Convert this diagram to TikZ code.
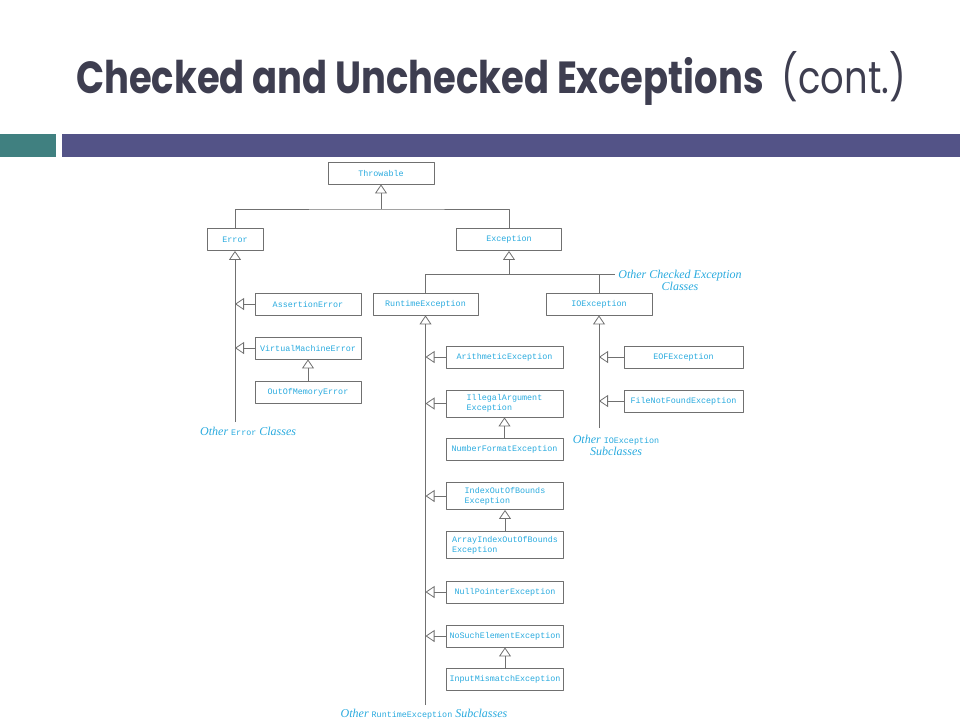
\documentclass[tikz,border=0pt]{standalone}
\usepackage{fontspec}
\usetikzlibrary{arrows.meta,positioning}
\newfontfamily\titlefont{Poppins}
\newfontfamily\codefont{Liberation Mono}
\newfontfamily\notefont{Liberation Serif}
\newcommand{\cd}[1]{{\codefont\upshape\fontsize{8.4}{10}\selectfont #1}}
\definecolor{titlegray}{RGB}{62,62,80}
\definecolor{barteal}{RGB}{64,128,128}
\definecolor{barpurple}{RGB}{83,83,135}
\definecolor{codecyan}{RGB}{41,170,222}
\definecolor{linegray}{RGB}{112,112,112}
\begin{document}
\begin{tikzpicture}[x=1pt,y=-1pt, line join=round,
  cls/.style={draw=linegray, line width=0.8pt, minimum width=106pt, minimum height=22pt,
    inner sep=0pt, text=codecyan, font=\codefont\fontsize{8.4}{10}\selectfont},
  wide/.style={cls, minimum width=117pt},
  two/.style={wide, minimum height=27pt, align=left},
  link/.style={draw=linegray, line width=0.8pt},
  inh/.style={link, -{Triangle[open,length=9pt,width=12pt]}},
  note/.style={text=codecyan, inner sep=0pt, align=center,
    font=\notefont\itshape\fontsize{12}{12}\selectfont}]
  \useasboundingbox (0,0) rectangle (960,720);
  % title and bars
  \node[anchor=base west, inner sep=0pt, text=titlegray, font=\titlefont\fontsize{45}{45}\selectfont]
    (title) at (76,93) {\scalebox{0.82}[1]{\bfseries Checked and Unchecked Exceptions\hspace{22pt}\mdseries(cont.)}};
  \fill[barteal] (0,134) rectangle (56,157);
  \fill[barpurple] (62,134) rectangle (960,157);
  % classes
  \node[cls] (throwable) at (381,173) {Throwable};
  \node[cls, minimum width=56pt] (error) at (235,239.5) {Error};
  \node[cls, minimum width=105pt] (exception) at (509,239.5) {Exception};
  \node[cls] (assert) at (308,304) {AssertionError};
  \node[cls, minimum width=105pt] (runtime) at (425.5,304) {RuntimeException};
  \node[cls] (io) at (599,304) {IOException};
  \node[cls] (vm) at (308,348) {VirtualMachineError};
  \node[cls] (oom) at (308,392) {OutOfMemoryError};
  \node[wide] (arith) at (504.5,357) {ArithmeticException};
  \node[two] (illegal) at (504.5,403.5) {IllegalArgument\\Exception};
  \node[wide] (numfmt) at (504.5,449.5) {NumberFormatException};
  \node[two] (index) at (505,496) {IndexOutOfBounds\\Exception};
  \node[two] (arrayidx) at (505,545) {ArrayIndexOutOfBounds\\Exception};
  \node[wide] (nullptr) at (505,592) {NullPointerException};
  \node[wide] (nosuch) at (505,636) {NoSuchElementException};
  \node[wide] (inputmm) at (505,679.5) {InputMismatchException};
  \node[cls, minimum width=119pt] (eof) at (683.5,357) {EOFException};
  \node[cls, minimum width=119pt] (fnf) at (683.5,401) {FileNotFoundException};
  % notes
  \node[note] (checkednote) at (680,280) {Other Checked Exception\\Classes};
  \node[note, anchor=west] (errnote) at (200,431) {Other \cd{Error} Classes};
  \node[note] (ionote) at (616,445) {Other \cd{IOException}\\Subclasses};
  \node[note] (rtnote) at (424,714) {Other \cd{RuntimeException} Subclasses};
  % Throwable
  \coordinate (tbar) at (381,209);
  \draw[link] (error.north) |- (tbar) -| (exception.north);
  \draw[inh] (tbar) -- (throwable.south);
  % Exception
  \coordinate (ebar) at (509,274);
  \draw[link] (runtime.north) |- ([xshift=-3pt]checkednote.west |- ebar);
  \draw[link] (io.north) -- (io.north |- ebar);
  \draw[inh] (ebar) -- (exception.south);
  % Error
  \coordinate (errend) at (235,422);
  \draw[inh] (errend) -- (error.south);
  \draw[inh] (assert.west) -- (assert.west -| errend);
  \draw[inh] (vm.west) -- (vm.west -| errend);
  \draw[inh] (oom) -- (vm);
  % RuntimeException
  \coordinate (rtend) at (425.5,705);
  \draw[inh] (rtend) -- (runtime.south);
  \foreach \c in {arith,illegal,index,nullptr,nosuch}
    \draw[inh] (\c.west) -- (\c.west -| rtend);
  \draw[inh] (numfmt) -- (illegal);
  \draw[inh] (arrayidx) -- (index);
  \draw[inh] (inputmm) -- (nosuch);
  % IOException
  \coordinate (ioend) at (599,428);
  \draw[inh] (ioend) -- (io.south);
  \draw[inh] (eof.west) -- (eof.west -| ioend);
  \draw[inh] (fnf.west) -- (fnf.west -| ioend);
\end{tikzpicture}
\end{document}
